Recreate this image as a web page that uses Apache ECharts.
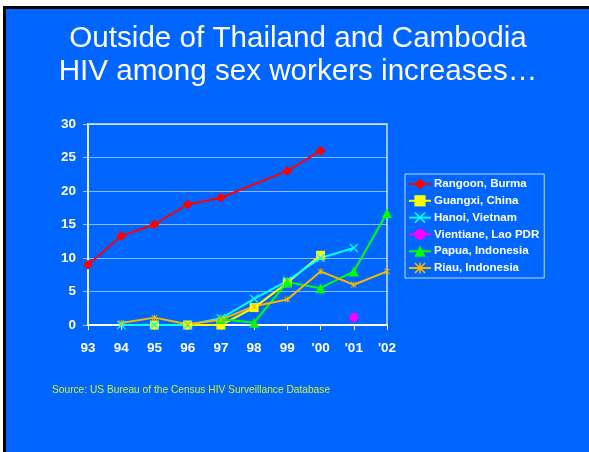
<!DOCTYPE html>
<html>
<head>
<meta charset="utf-8">
<script src="https://cdn.jsdelivr.net/npm/echarts@6/dist/echarts.min.js"></script>
<style>
  html, body { margin: 0; padding: 0; background: #ffffff; }
  #slide { position: absolute; left: 3px; top: 6px; width: 586px; height: 446px; background: #000000; }
  #inner { position: absolute; left: 3px; top: 3px; right: 0; bottom: 0; background: #0066FF; }
  #chart { position: absolute; left: 0; top: 0; width: 589px; height: 452px; }
</style>
</head>
<body>
<div id="slide"><div id="inner"></div></div>
<div id="chart"></div>
<script>
var years = ['93', '94', '95', '96', '97', '98', '99', "'00", "'01", "'02"];
var rangoon   = [9, 13.3, 15, 18, 19, null, 23, 26, null, null];
var guangxi   = [null, null, 0, 0, 0, 2.6, 6.3, 10.4, null, null];
var hanoi     = [null, 0, 0, 0, 1, 3.9, 6.6, 10, 11.5, null];
var vientiane = [null, null, null, null, null, null, null, null, 1.15, null];
var papua     = [null, null, null, null, 0.9, 0.35, 6.4, 5.5, 8, 16.7];
var riau      = [null, 0.3, 1.1, 0.1, 0.8, 2.8, 3.8, 8, 6, 8];
var yTicks = [0, 5, 10, 15, 20, 25, 30];

var titleLines = ['Outside of Thailand and Cambodia', 'HIV among sex workers increases\u2026'];
var sourceText = 'Source: US Bureau of the Census HIV Surveillance Database';

var xPath = 'path://M0,1L1,0L5,4L9,0L10,1L6,5L10,9L9,10L5,6L1,10L0,9L4,5Z';
var starPath = 'path://M0,1L1,0L5,4L9,0L10,1L6,5L10,9L9,10L5,6L1,10L0,9L4,5Z M4.3,0H5.7V10H4.3Z';

function mk(name, data, color, symbol, size) {
  return {
    name: name, type: 'line', data: data,
    symbol: symbol, symbolSize: size, showSymbol: true,
    connectNulls: true,
    lineStyle: { color: color, width: 2 },
    itemStyle: { color: color },
    emphasis: { disabled: true }
  };
}

var chart = echarts.init(document.getElementById('chart'), null, { renderer: 'canvas' });
chart.setOption({
  animation: false,
  backgroundColor: 'transparent',
  graphic: [
    { type: 'text', x: 298, y: 24, style: { text: titleLines[0], fill: '#ffffff', font: '29.6px "Liberation Sans", Arial, sans-serif', textAlign: 'center' } },
    { type: 'text', x: 298, y: 57, style: { text: titleLines[1], fill: '#ffffff', font: '29.6px "Liberation Sans", Arial, sans-serif', textAlign: 'center' } },
    { type: 'text', x: 52, y: 385, style: { text: sourceText, fill: '#CCEE33', font: '10.2px "Liberation Sans", Arial, sans-serif' } }
  ],
  grid: { left: 88, right: 202, top: 124, bottom: 127, show: true, borderColor: 'rgba(255,255,255,0.6)', borderWidth: 2, backgroundColor: 'transparent' },
  legend: {
    orient: 'vertical', left: 405, top: 174,
    padding: [4, 5, 4, 3], itemGap: 4.8, itemWidth: 22, itemHeight: 14,
    borderColor: 'rgba(255,255,255,0.75)', borderWidth: 1,
    textStyle: { color: '#ffffff', fontWeight: 'bold', fontSize: 11.5, fontFamily: '"Liberation Sans", Arial, sans-serif', padding: [0, 0, 0, -2] },
    data: ['Rangoon, Burma', 'Guangxi, China', 'Hanoi, Vietnam', 'Vientiane, Lao PDR', 'Papua, Indonesia', 'Riau, Indonesia']
  },
  xAxis: {
    type: 'category', data: years, boundaryGap: false,
    axisLine: { lineStyle: { color: '#ffffff', width: 2 } },
    axisTick: { show: true, alignWithLabel: true, length: 5, lineStyle: { color: '#ffffff', width: 1 } },
    axisLabel: { color: '#ffffff', fontWeight: 'bold', fontSize: 13.5, fontFamily: '"Liberation Sans", Arial, sans-serif', margin: 16 },
    splitLine: { show: false }
  },
  yAxis: {
    type: 'value', min: yTicks[0], max: yTicks[yTicks.length - 1], interval: 5,
    axisLine: { show: true, lineStyle: { color: '#ffffff', width: 1.5 } },
    axisTick: { show: true, length: 5, lineStyle: { color: 'rgba(255,255,255,0.6)' } },
    axisLabel: { color: '#ffffff', fontWeight: 'bold', fontSize: 13.5, fontFamily: '"Liberation Sans", Arial, sans-serif', margin: 12 },
    splitLine: { show: true, lineStyle: { color: 'rgba(255,255,255,0.55)', width: 1 } }
  },
  series: [
    mk('Rangoon, Burma', rangoon, '#FF0000', 'diamond', 10),
    mk('Guangxi, China', guangxi, '#FFFF00', 'rect', 9),
    mk('Hanoi, Vietnam', hanoi, '#00FFFF', xPath, 9),
    mk('Vientiane, Lao PDR', vientiane, '#FF00FF', 'circle', 9),
    mk('Papua, Indonesia', papua, '#00FF00', 'triangle', 10),
    mk('Riau, Indonesia', riau, '#F5B800', starPath, 6)
  ]
});
</script>
</body>
</html>
